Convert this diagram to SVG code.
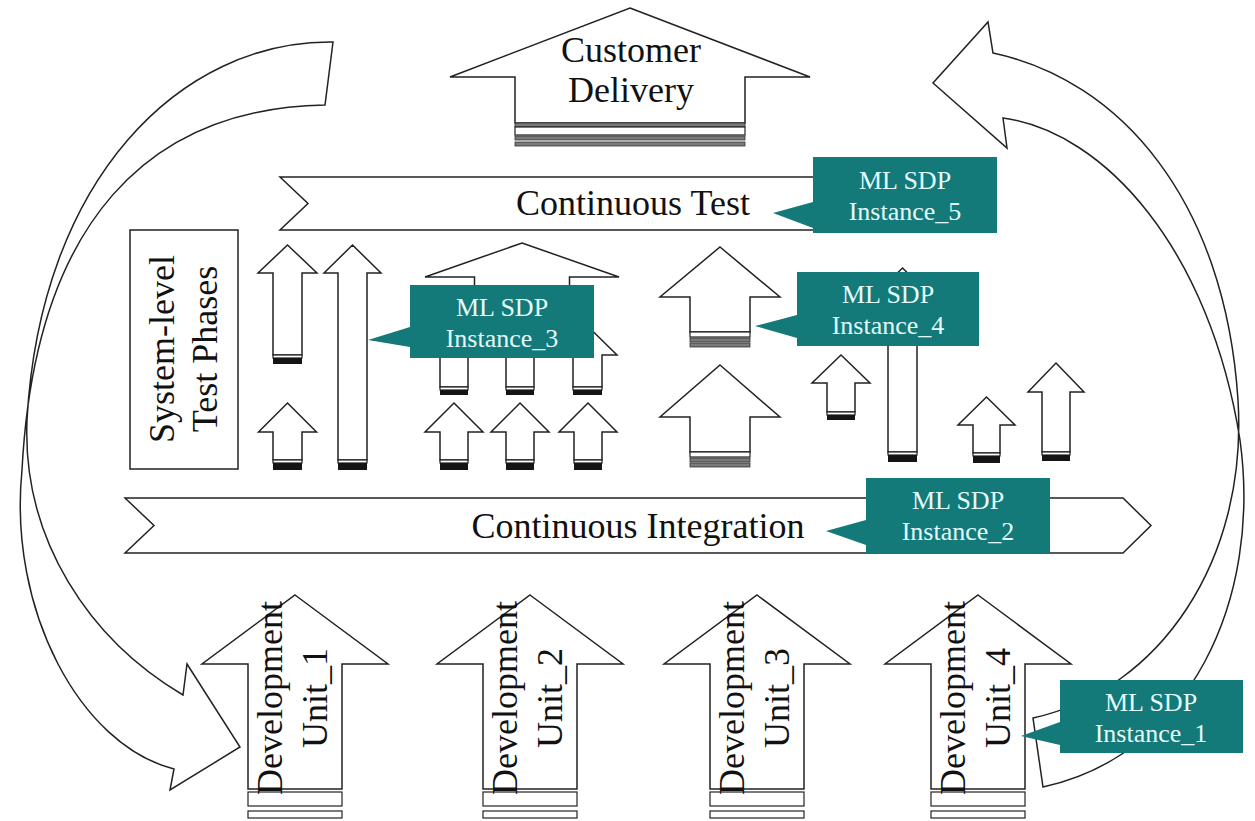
<svg xmlns="http://www.w3.org/2000/svg" width="1255" height="821" viewBox="0 0 1255 821">
<style>
.sh{fill:#fff;stroke:#222;stroke-width:1.5;stroke-linejoin:miter}
.band{fill:#fff;stroke:#222;stroke-width:1.2}
.blk{fill:#151515}
.gry{fill:#7a7a7a;stroke:#333;stroke-width:0.8}
.lbl{font-family:"Liberation Serif","Times New Roman",serif;font-size:36px;fill:#111;text-anchor:middle}
.box{fill:#137979}
.btx{font-family:"Liberation Serif","Times New Roman",serif;font-size:26px;fill:#e4fbfb;text-anchor:middle}
</style>
<rect width="1255" height="821" fill="#fff"/>
<g id="connectors">
<path class="sh" d="M333,42 C180,40 40,180 27,420 C22,540 90,640 183,695 L187,664 L240,747 L170,790 L174,769 C80,745 8,610 22,470 C35,220 150,108 325,105 Z"/>
<path class="sh" d="M993,53 C1120,80 1225,200 1238,400 C1248,560 1160,690 1033,718 L1043,787 C1190,755 1262,600 1240,440 C1210,250 1105,132 1003,118 L1007,148 L933,83 L988,22 Z"/>
</g>
<g id="customer-delivery">
<polygon class="sh" points="630,8 810,77 745,77 745,123 515,123 515,77 450,77"/>
<rect class="gry" x="515" y="123" width="230" height="4"/>
<rect class="band" x="515" y="127" width="230" height="8"/>
<rect class="gry" x="515" y="136" width="230" height="4"/>
<rect class="gry" x="515" y="142" width="230" height="4"/>
<text class="lbl" font-family="Liberation Serif, serif" x="631" y="62">Customer</text>
<text class="lbl" font-family="Liberation Serif, serif" x="631" y="102">Delivery</text>
</g>
<g id="continuous-test">
<polygon class="sh" points="280,177 840,177 862,203.5 840,230 280,230 308,203.5"/>
<text class="lbl" font-family="Liberation Serif, serif" x="633" y="215">Continuous Test</text>
</g>
<g id="system-level">
<rect class="sh" x="130" y="230" width="108" height="239"/>
<text class="lbl" font-family="Liberation Serif, serif" transform="translate(174,349) rotate(-90)">System-level</text>
<text class="lbl" font-family="Liberation Serif, serif" transform="translate(217,349) rotate(-90)">Test Phases</text>
</g>
<g id="phase-arrows">
<polygon class="sh" points="287.5,245 317,273 302,273 302,355 273,355 273,273 258,273"/>
<rect class="band" x="273" y="355" width="29" height="3"/><rect class="blk" x="273" y="358" width="29" height="6"/>
<polygon class="sh" points="352.5,245 381,273 367,273 367,460 338,460 338,273 324,273"/>
<rect class="band" x="338" y="460" width="29" height="3"/><rect class="blk" x="338" y="463" width="29" height="7"/>
<polygon class="sh" points="287.5,403 316.5,432 302,432 302,460 273,460 273,432 258.5,432"/>
<rect class="band" x="273" y="460" width="29" height="3"/><rect class="blk" x="273" y="463" width="29" height="7"/>
<polygon class="sh" points="522,243 619,277 569.5,277 569.5,350 474.5,350 474.5,277 425,277"/>
<polygon class="sh" points="454,326 483,355 468,355 468,387 440,387 440,355 425,355"/>
<rect class="band" x="440" y="387" width="28" height="3"/><rect class="blk" x="440" y="390" width="28" height="5"/>
<polygon class="sh" points="520,326 549,355 534,355 534,387 506,387 506,355 491,355"/>
<rect class="band" x="506" y="387" width="28" height="3"/><rect class="blk" x="506" y="390" width="28" height="5"/>
<polygon class="sh" points="587.5,326 617,355 602,355 602,387 573,387 573,355 558,355"/>
<rect class="band" x="573" y="387" width="29" height="3"/><rect class="blk" x="573" y="390" width="29" height="5"/>
<polygon class="sh" points="454,403 483,432 468,432 468,460 440,460 440,432 425,432"/>
<rect class="band" x="440" y="460" width="28" height="3"/><rect class="blk" x="440" y="463" width="28" height="7"/>
<polygon class="sh" points="520,403 549,432 534,432 534,460 506,460 506,432 491,432"/>
<rect class="band" x="506" y="460" width="28" height="3"/><rect class="blk" x="506" y="463" width="28" height="7"/>
<polygon class="sh" points="588,403 617,432 602,432 602,460 574,460 574,432 559,432"/>
<rect class="band" x="574" y="460" width="28" height="3"/><rect class="blk" x="574" y="463" width="28" height="7"/>
<polygon class="sh" points="720,247 780,297 750,297 750,332 690,332 690,297 660,297"/>
<rect class="band" x="690" y="332" width="60" height="5"/>
<rect class="gry" x="690" y="338" width="60" height="4"/><rect class="gry" x="690" y="343" width="60" height="4"/>
<polygon class="sh" points="720,365 780,417 750,417 750,452 690,452 690,417 660,417"/>
<rect class="band" x="690" y="452" width="60" height="5"/>
<rect class="gry" x="690" y="458" width="60" height="4"/><rect class="gry" x="690" y="463" width="60" height="4"/>
<polygon class="sh" points="841,355 870,383 855,383 855,412 827,412 827,383 812,383"/>
<rect class="band" x="827" y="412" width="28" height="3"/><rect class="blk" x="827" y="415" width="28" height="5"/>
<polygon class="sh" points="902.5,268 932,297 917,297 917,452 888,452 888,297 873,297"/>
<rect class="band" x="888" y="452" width="29" height="3"/><rect class="blk" x="888" y="455" width="29" height="7"/>
<polygon class="sh" points="986.5,397 1015,425 1000,425 1000,453 973,453 973,425 958,425"/>
<rect class="band" x="973" y="453" width="27" height="3"/><rect class="blk" x="973" y="456" width="27" height="7"/>
<polygon class="sh" points="1056,363 1084,392 1070,392 1070,452 1042,452 1042,392 1028,392"/>
<rect class="band" x="1042" y="452" width="28" height="3"/><rect class="blk" x="1042" y="455" width="28" height="6"/>
</g>
<g id="continuous-integration">
<polygon class="sh" points="125,498 1123,498 1151,525.5 1123,553 125,553 154,525.5"/>
<text class="lbl" font-family="Liberation Serif, serif" x="638" y="538">Continuous Integration</text>
</g>
<g id="dev-unit-1">
<polygon class="sh" points="295,595 388,664 342,664 342,789 248,789 248,664 202,664"/>
<rect class="band" x="248" y="792" width="94" height="14"/><rect class="band" x="248" y="811" width="94" height="7"/>
<text class="lbl" font-family="Liberation Serif, serif" transform="translate(282,698) rotate(-90)">Development</text>
<text class="lbl" font-family="Liberation Serif, serif" transform="translate(327,698) rotate(-90)">Unit_1</text>
</g>
<g id="dev-unit-2">
<polygon class="sh" points="530,595 623,664 577,664 577,789 483,789 483,664 437,664"/>
<rect class="band" x="483" y="792" width="94" height="14"/><rect class="band" x="483" y="811" width="94" height="7"/>
<text class="lbl" font-family="Liberation Serif, serif" transform="translate(517,698) rotate(-90)">Development</text>
<text class="lbl" font-family="Liberation Serif, serif" transform="translate(562,698) rotate(-90)">Unit_2</text>
</g>
<g id="dev-unit-3">
<polygon class="sh" points="757,595 850,664 804,664 804,789 710,789 710,664 664,664"/>
<rect class="band" x="710" y="792" width="94" height="14"/><rect class="band" x="710" y="811" width="94" height="7"/>
<text class="lbl" font-family="Liberation Serif, serif" transform="translate(744,698) rotate(-90)">Development</text>
<text class="lbl" font-family="Liberation Serif, serif" transform="translate(789,698) rotate(-90)">Unit_3</text>
</g>
<g id="dev-unit-4">
<polygon class="sh" points="978,595 1071,664 1025,664 1025,789 931,789 931,664 885,664"/>
<rect class="band" x="931" y="792" width="94" height="14"/><rect class="band" x="931" y="811" width="94" height="7"/>
<text class="lbl" font-family="Liberation Serif, serif" transform="translate(965,698) rotate(-90)">Development</text>
<text class="lbl" font-family="Liberation Serif, serif" transform="translate(1010,698) rotate(-90)">Unit_4</text>
</g>
<g id="ml-sdp-5">
<polygon class="box" points="813,157 997,157 997,233 813,233 813,228 773,213 813,202"/>
<text class="btx" font-family="Liberation Serif, serif" x="905" y="189">ML SDP</text><text class="btx" font-family="Liberation Serif, serif" x="905" y="220">Instance_5</text>
</g>
<g id="ml-sdp-3">
<polygon class="box" points="410,285 594,285 594,358 410,358 410,347 368,340 410,327"/>
<text class="btx" font-family="Liberation Serif, serif" x="502" y="316">ML SDP</text><text class="btx" font-family="Liberation Serif, serif" x="502" y="347">Instance_3</text>
</g>
<g id="ml-sdp-4">
<polygon class="box" points="797,272 979,272 979,346 797,346 797,338 755,326 797,315"/>
<text class="btx" font-family="Liberation Serif, serif" x="888" y="303">ML SDP</text><text class="btx" font-family="Liberation Serif, serif" x="888" y="334">Instance_4</text>
</g>
<g id="ml-sdp-2">
<polygon class="box" points="866,478 1050,478 1050,553 866,553 866,545 826,531 866,520"/>
<text class="btx" font-family="Liberation Serif, serif" x="958" y="509">ML SDP</text><text class="btx" font-family="Liberation Serif, serif" x="958" y="540">Instance_2</text>
</g>
<g id="ml-sdp-1">
<polygon class="box" points="1060,680 1243,680 1243,753 1060,753 1060,745 1021,736 1060,722"/>
<text class="btx" font-family="Liberation Serif, serif" x="1151" y="711">ML SDP</text><text class="btx" font-family="Liberation Serif, serif" x="1151" y="742">Instance_1</text>
</g>
</svg>
